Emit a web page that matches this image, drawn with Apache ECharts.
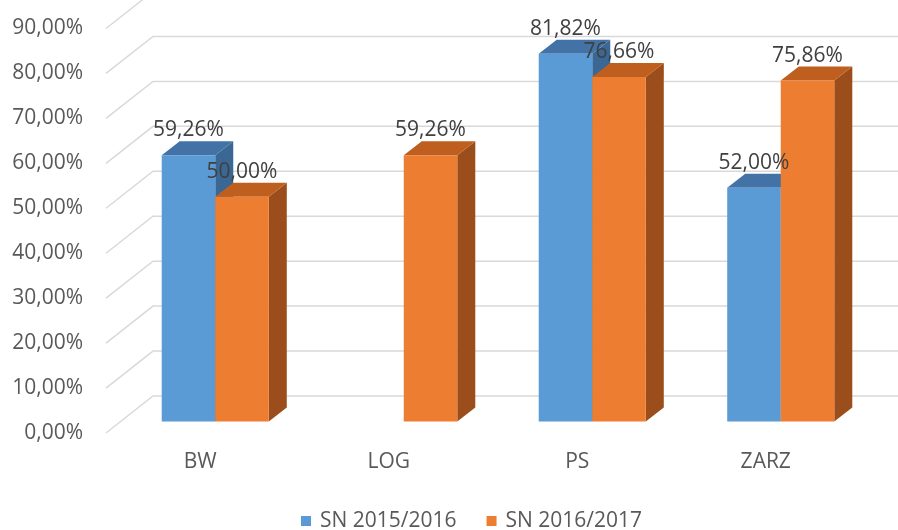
<!DOCTYPE html>
<html lang="pl">
<head>
  <meta charset="utf-8">
  <title>SN 2015/2016 vs SN 2016/2017</title>
  <script src="https://cdn.jsdelivr.net/npm/echarts@6/dist/echarts.min.js"></script>
  <style>
    html, body { margin: 0; padding: 0; background: #fff; }
    #chart { width: 898px; height: 530px; }
  </style>
</head>
<body>
  <div id="chart"></div>
  <script>
    // dane z wykresu
    var categories = ['BW', 'LOG', 'PS', 'ZARZ'];
    var sn1516 = [59.26, null, 81.82, 52.00];
    var sn1617 = [50.00, 59.26, 76.66, 75.86];
    var yTicks = [0, 10, 20, 30, 40, 50, 60, 70, 80, 90];
    var seriesNames = ['SN 2015/2016', 'SN 2016/2017'];

    var FONT = 'Open Sans';
    // przesuniecia "3D"
    var BAR_SHIFT = [15, -11.5];   // przod slupka wzgledem przedniej krawedzi podlogi
    var BAR_DEPTH = [18, -14];     // glebokosc slupka
    var WALL_DEPTH = [47, -37];    // glebokosc sciany tylnej

    var palette = [
      { front: '#5B9BD5', top: '#4373A6', side: '#3A6794' },
      { front: '#ED7D31', top: '#BE5F1F', side: '#9B4E1B' }
    ];

    function fmt(v) {
      return v.toFixed(2).replace('.', ',') + '%';
    }

    function toData(arr) {
      var out = [];
      arr.forEach(function (v, i) {
        if (v != null) out.push([i, v]);
      });
      return out;
    }

    function barRenderer(sIdx) {
      return function (params, api) {
        var i = api.value(0), v = api.value(1);
        var p0 = api.coord([i, 0]);
        var p1 = api.coord([i, v]);
        var band = api.size([1, 0])[0];
        var bw = band * 0.284;
        var cx = p0[0] + BAR_SHIFT[0];
        var x0 = sIdx === 0 ? cx - bw : cx;
        var x1 = x0 + bw;
        var yb = p0[1] + BAR_SHIFT[1];
        var yt = p1[1] + BAR_SHIFT[1];
        var dx = BAR_DEPTH[0], dy = BAR_DEPTH[1];
        var c = palette[sIdx];
        return {
          type: 'group',
          children: [
            { type: 'polygon', shape: { points: [[x1, yt], [x1 + dx, yt + dy], [x1 + dx, yb + dy], [x1, yb]] },
              style: { fill: c.side } },
            { type: 'polygon', shape: { points: [[x0, yt], [x1, yt], [x1 + dx, yt + dy], [x0 + dx, yt + dy]] },
              style: { fill: c.top } },
            { type: 'rect', shape: { x: x0, y: yt, width: bw, height: yb - yt },
              style: { fill: c.front } },
            { type: 'text', z2: 100,
              style: { x: (x0 + x1) / 2, y: yt - 25, text: fmt(v), fill: '#404040',
                       font: '21px "' + FONT + '"', align: 'center', verticalAlign: 'middle' } }
          ]
        };
      };
    }

    var chart = echarts.init(document.getElementById('chart'));
    chart.setOption({
      animation: false,
      textStyle: { fontFamily: FONT },
      grid: { left: 106, right: 38, top: 28.5, bottom: 97 },
      legend: {
        data: seriesNames,
        left: 301, top: 510, padding: 0,
        icon: 'rect', itemWidth: 10, itemHeight: 10, itemGap: 30,
        textStyle: { color: '#595959', fontSize: 21, lineHeight: 22, fontFamily: FONT, padding: [0, 0, 0, 4] }
      },
      xAxis: {
        type: 'category',
        data: categories,
        axisLine: { show: false },
        axisTick: { show: false },
        splitLine: { show: false },
        axisLabel: { color: '#595959', fontSize: 21, margin: 19 }
      },
      yAxis: {
        type: 'value',
        min: 0, max: 90, interval: 10,
        axisLine: { show: false },
        axisTick: { show: false },
        splitLine: { show: false },
        axisLabel: { color: '#595959', fontSize: 21, margin: 23, formatter: fmt }
      },
      series: [
        {
          type: 'custom',
          name: 'grid',
          silent: true,
          z: 1,
          data: yTicks.map(function (t) { return [0, t]; }),
          encode: { x: 0, y: 1 },
          renderItem: function (params, api) {
            var p = api.coord([0, api.value(1)]);
            var left = params.coordSys.x;
            var bx = left + WALL_DEPTH[0], by = p[1] + WALL_DEPTH[1];
            return {
              type: 'polyline',
              shape: { points: [[left, p[1]], [bx, by], [api.getWidth(), by]] },
              style: { stroke: '#D9D9D9', lineWidth: 1.5, fill: null }
            };
          }
        },
        {
          type: 'custom',
          name: seriesNames[0],
          itemStyle: { color: palette[0].front },
          data: toData(sn1516),
          encode: { x: 0, y: 1 },
          renderItem: barRenderer(0)
        },
        {
          type: 'custom',
          name: seriesNames[1],
          itemStyle: { color: palette[1].front },
          data: toData(sn1617),
          encode: { x: 0, y: 1 },
          renderItem: barRenderer(1)
        }
      ]
    });
  </script>
</body>
</html>
